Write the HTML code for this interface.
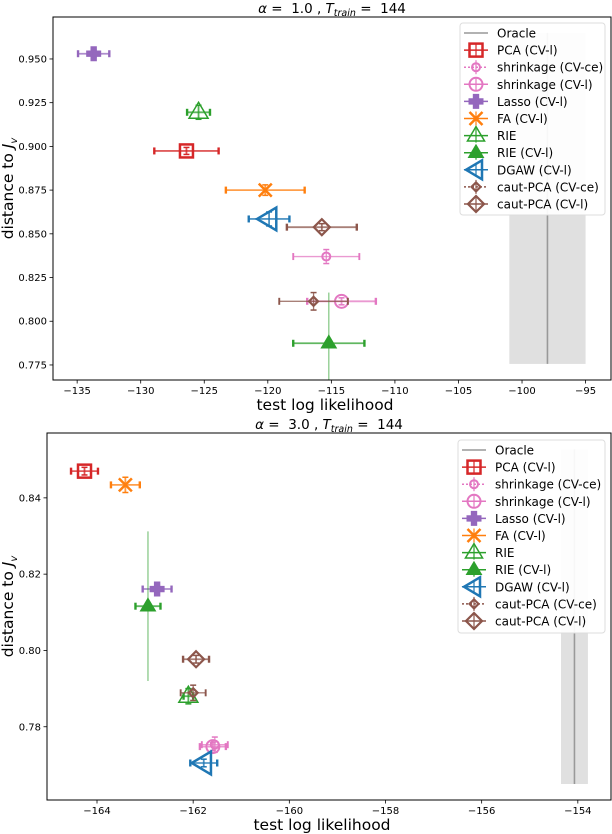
<!DOCTYPE html>
<html><head><meta charset="utf-8">
<style>
html,body{margin:0;padding:0;background:#fff;}
svg{display:block;font-family:"DejaVu Sans","Liberation Sans",sans-serif;}
</style></head>
<body>
<svg id="chart" width="612" height="834" viewBox="0 0 612 834" xmlns="http://www.w3.org/2000/svg"></svg>
<script>
// ---- data ----
const methods = ["PCA (CV-l)","shrinkage (CV-ce)","shrinkage (CV-l)","Lasso (CV-l)","FA (CV-l)","RIE","RIE (CV-l)","DGAW (CV-l)","caut-PCA (CV-ce)","caut-PCA (CV-l)"];
const colors = ["#d62728","#e377c2","#e377c2","#9467bd","#ff7f0e","#2ca02c","#2ca02c","#1f77b4","#8c564b","#8c564b"];
const markers = ["square","circle","circle","plus","x","tri","tri","tril","diamond","diamond"];
const msize = [6.5,4,6.5,7,6.5,10,7.5,12,4.5,8];
const filled = [false,false,false,true,false,false,true,false,false,false];

const topX    = [-126.4,-115.4,-114.2,-133.7,-120.2,-125.45,-115.2,-119.9,-116.4,-115.75];
const topY    = [0.8974,0.837,0.8114,0.953,0.875,0.9195,0.7874,0.8585,0.8114,0.8538];
const topXerr = [2.53,2.6,2.7,1.23,3.1,0.9,2.8,1.6,2.7,2.75];
const topYerr = [0.002,0.004,0.002,0.002,0.003,0.004,0.029,0.004,0.005,0.002];
const topOracleX = -98.0, topOracleLo = -101, topOracleHi = -95;
const topOracleY = [0.7756,0.9649];
const topXTicks = [-135,-130,-125,-120,-115,-110,-105,-100,-95];
const topYTicks = [0.775,0.800,0.825,0.850,0.875,0.900,0.925,0.950];

const botX    = [-164.26,-161.55,-161.59,-162.75,-163.41,-162.1,-162.94,-161.78,-162.0,-161.94];
const botY    = [0.847,0.7753,0.7748,0.8161,0.8434,0.788,0.8116,0.7705,0.7889,0.7977];
const botXerr = [0.28,0.27,0.27,0.3,0.3,0.1,0.26,0.28,0.26,0.27];
const botYerr = [0.001,0.002,0.001,0.001,0.002,0.002,0.0196,0.001,0.002,0.001];
const botOracleX = -154.07, botOracleLo = -154.35, botOracleHi = -153.79;
const botOracleY = [0.765,0.8527];
const botXTicks = [-164,-162,-160,-158,-156,-154];
const botYTicks = [0.78,0.80,0.82,0.84];

// ---- drawing ----
const NS="http://www.w3.org/2000/svg";
const svg=document.getElementById('chart');
function el(tag,attrs,parent){const e=document.createElementNS(NS,tag);for(const k in attrs)e.setAttribute(k,attrs[k]);(parent||svg).appendChild(e);return e;}
function fmtMinus(v,d){return (v<0?"\u2212":"")+Math.abs(v).toFixed(d);}

function drawMarker(g,type,cx,cy,s,color,fill){
  const sw=2; const f=fill?color:"none"; let e;
  if(type==="square"){e=el('rect',{x:cx-s,y:cy-s,width:2*s,height:2*s,fill:f,stroke:color,'stroke-width':sw+0.5},g);}
  else if(type==="circle"){e=el('circle',{cx:cx,cy:cy,r:s,fill:f,stroke:color,'stroke-width':sw},g);}
  else if(type==="plus"){const a=s/2.6;
    const p=[[-a,-s],[a,-s],[a,-a],[s,-a],[s,a],[a,a],[a,s],[-a,s],[-a,a],[-s,a],[-s,-a],[-a,-a]].map(q=>(cx+q[0])+","+(cy+q[1])).join(" ");
    e=el('polygon',{points:p,fill:color,stroke:color,'stroke-width':1},g);}
  else if(type==="x"){e=el('path',{d:`M${cx-s},${cy-s}L${cx+s},${cy+s}M${cx-s},${cy+s}L${cx+s},${cy-s}`,stroke:color,'stroke-width':2.5,fill:"none"},g);}
  else if(type==="tri"){e=el('polygon',{points:`${cx},${cy-s} ${cx+s*0.95},${cy+s*0.6} ${cx-s*0.95},${cy+s*0.6}`,fill:f,stroke:color,'stroke-width':1.5},g);}
  else if(type==="tril"){e=el('polygon',{points:`${cx-s},${cy} ${cx+s*0.6},${cy-s*0.95} ${cx+s*0.6},${cy+s*0.95}`,fill:f,stroke:color,'stroke-width':2.5},g);}
  else if(type==="diamond"){e=el('polygon',{points:`${cx},${cy-s} ${cx+s},${cy} ${cx},${cy+s} ${cx-s},${cy}`,fill:f,stroke:color,'stroke-width':2.2},g);}
  return e;
}

function panel(p){
  const {L,R,T,B,xmin,xmax,ymin,ymax}=p;
  const sx=v=>L+(v-xmin)/(xmax-xmin)*(R-L);
  const sy=v=>B-(v-ymin)/(ymax-ymin)*(B-T);
  const g=el('g',{});
  
  
  const cid='clip-'+p.name;
  const cp=el('clipPath',{id:cid},g); el('rect',{x:L,y:T,width:R-L,height:B-T},cp);
  const plot=el('g',{'clip-path':`url(#${cid})`},g);
  const ob=el('rect',{x:sx(p.oLo),y:sy(p.oY[1]),width:sx(p.oHi)-sx(p.oLo),height:sy(p.oY[0])-sy(p.oY[1]),fill:"#e0e0e0"},plot);
   
  const ol=el('line',{x1:sx(p.oX),x2:sx(p.oX),y1:sy(p.oY[1]),y2:sy(p.oY[0]),stroke:"#999",'stroke-width':1.6},plot);
   
  for(let i=0;i<methods.length;i++){
    const sg=el('g',{},plot);
    
    
    const cx=sx(p.X[i]),cy=sy(p.Y[i]);
    const x1=sx(p.X[i]-p.Xe[i]),x2=sx(p.X[i]+p.Xe[i]);
    const y1=sy(p.Y[i]+p.Ye[i]),y2=sy(p.Y[i]-p.Ye[i]);
    const c=colors[i];
    const lw=(i===1||i===8)?1.3:1.8;
    drawMarker(sg,markers[i],cx,cy,msize[i],c,filled[i]);
    el('line',{x1:x1,x2:x2,y1:cy,y2:cy,stroke:c,'stroke-width':lw,opacity:0.75},sg);
    el('line',{x1:x1,x2:x1,y1:cy-3.5,y2:cy+3.5,stroke:c,'stroke-width':lw+0.6},sg);
    el('line',{x1:x2,x2:x2,y1:cy-3.5,y2:cy+3.5,stroke:c,'stroke-width':lw+0.6},sg);
    el('line',{x1:cx,x2:cx,y1:y1,y2:y2,stroke:c,'stroke-width':(i===6?1.2:lw),opacity:(i===6?0.6:0.8)},sg);
    if(!(i===6)){el('line',{x1:cx-3,x2:cx+3,y1:y1,y2:y1,stroke:c,'stroke-width':1.5},sg);
    el('line',{x1:cx-3,x2:cx+3,y1:y2,y2:y2,stroke:c,'stroke-width':1.5},sg);}
  }
  el('rect',{x:L,y:T,width:R-L,height:B-T,fill:"none",stroke:"#000",'stroke-width':1},g);
  p.xt.forEach(v=>{const x=sx(v);
    el('line',{x1:x,x2:x,y1:B,y2:B+3.5,stroke:"#000",'stroke-width':0.8},g);
    const t=el('text',{x:x,y:B+14,'text-anchor':'middle','font-size':10},g); t.textContent=fmtMinus(v,0);
     });
  p.yt.forEach(v=>{const y=sy(v);
    el('line',{x1:L-3.5,x2:L,y1:y,y2:y,stroke:"#000",'stroke-width':0.8},g);
    const t=el('text',{x:L-6,y:y+3.5,'text-anchor':'end','font-size':10},g); t.textContent=v.toFixed(p.yd);
     });
  const xl=el('text',{x:(L+R)/2-7,y:B+30,'text-anchor':'middle','font-size':15.5},g); xl.textContent="test log likelihood";
   
  const yl=el('text',{x:0,y:0,'text-anchor':'middle','font-size':15.5,transform:`translate(13,${(T+B)/2-10}) rotate(-90)`},g);
  yl.innerHTML='distance to <tspan font-style="italic">J</tspan><tspan font-style="italic" font-size="10" dy="4">v</tspan>';
   
  const tt=el('text',{x:p.tx,y:T-4,'text-anchor':'middle','font-size':13.5},g);
  tt.innerHTML=`<tspan font-style="italic">α</tspan> = &#160;${p.alpha} , <tspan font-style="italic">T</tspan><tspan font-style="italic" font-size="9.5" dy="3">train</tspan><tspan dy="-3"> = &#160;144</tspan>`;
   
  const lg=el('g',{},g);
   
  el('rect',{x:p.lx,y:p.ly,width:605-p.lx,height:p.lh,rx:3,fill:"#fff",'fill-opacity':0.92,stroke:"#ddd"},lg);
  const ex0=p.lx+4, ex1=p.lx+28, emx=p.lx+16, tx=p.lx+37;
  const items=["Oracle"].concat(methods);
  items.forEach((name,k)=>{
    const y=p.ly+10+k*17.1;
    const eg=el('g',{},lg);
    
    
    if(k===0){el('line',{x1:ex0,x2:ex1,y1:y,y2:y,stroke:"#999",'stroke-width':1.5},eg);}
    else{const i=k-1,c=colors[i];
      drawMarker(eg,markers[i],emx,y,Math.min(msize[i],i===7?10:9),c,filled[i]);
      el('line',{x1:ex0,x2:ex1,y1:y,y2:y,stroke:c,'stroke-width':1.5,'stroke-dasharray':(i===1||i===8)?"2,2":"none"},eg);
      el('line',{x1:emx,x2:emx,y1:y-7,y2:y+7,stroke:c,'stroke-width':1.2},eg);}
    const t=el('text',{x:tx,y:y+4.5,'font-size':12},eg); t.textContent=name;
  });
}

panel({name:'panel-top',L:53,R:611,T:17,B:380,xmin:-136.9,xmax:-93.0,ymin:0.7664,ymax:0.974,
  X:topX,Y:topY,Xe:topXerr,Ye:topYerr,oX:topOracleX,oLo:topOracleLo,oHi:topOracleHi,oY:topOracleY,
  xt:topXTicks,yt:topYTicks,yd:3,alpha:"1.0",tx:332,lx:460,ly:23,lh:192});
panel({name:'panel-bottom',L:47,R:611,T:433,B:800,xmin:-165.04,xmax:-153.31,ymin:0.7608,ymax:0.857,
  X:botX,Y:botY,Xe:botXerr,Ye:botYerr,oX:botOracleX,oLo:botOracleLo,oHi:botOracleHi,oY:botOracleY,
  xt:botXTicks,yt:botYTicks,yd:2,alpha:"3.0",tx:329,lx:458,ly:440,lh:193});
</script>
</body></html>
